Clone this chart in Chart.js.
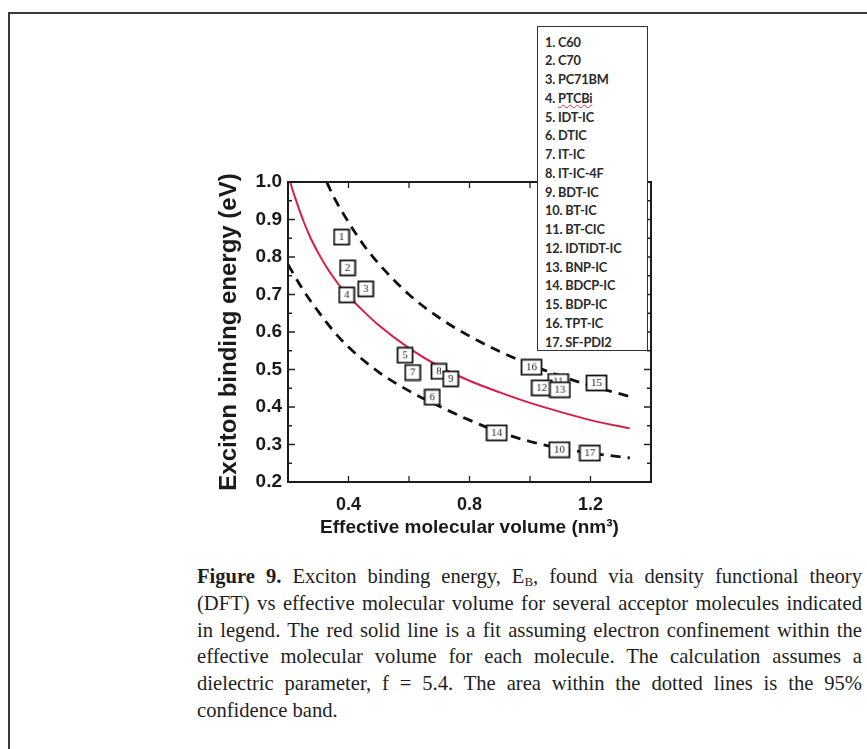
<!DOCTYPE html>
<html><head><meta charset="utf-8">
<script src="https://cdn.jsdelivr.net/npm/chart.js@4/dist/chart.umd.min.js"></script>
<style>
html,body{margin:0;padding:0;background:#fff;width:867px;height:749px;overflow:hidden;position:relative}
#frameTop{position:absolute;left:8px;top:12px;width:859px;height:2px;background:#3a3a3a}
#frameLeft{position:absolute;left:8px;top:12px;width:2px;height:737px;background:#3a3a3a}
#wrap{position:absolute;left:0;top:0;width:867px;height:560px}
#legend{position:absolute;left:537px;top:26px;width:109px;height:323px;border:1px solid #333;background:#fff;font-family:Lato,'Open Sans',sans-serif;font-weight:700;font-size:12.8px;color:#2a2a2a}
.li{position:absolute;left:7px;line-height:14px;white-space:nowrap;letter-spacing:-0.2px}
.sq{text-decoration:underline wavy #d0304a;text-decoration-thickness:1px}
#caption{position:absolute;left:197px;top:563px;width:665px;font-family:'Liberation Serif','Times New Roman',serif;font-size:20.6px;line-height:26.8px;color:#1e1e1e}
.cl{text-align:justify;text-align-last:justify;height:26.8px}
.cl.last{text-align-last:left}
sub{font-size:13px;line-height:0;vertical-align:-3px}
</style></head>
<body>
<div id="frameTop"></div><div id="frameLeft"></div>
<div id="wrap"><canvas id="c" width="867" height="560"></canvas></div>
<div id="legend"></div>
<div id="caption">
<div class="cl"><b>Figure 9.</b> Exciton binding energy, E<sub>B</sub>, found via density functional theory</div>
<div class="cl">(DFT) vs effective molecular volume for several acceptor molecules indicated</div>
<div class="cl">in legend. The red solid line is a fit assuming electron confinement within the</div>
<div class="cl">effective molecular volume for each molecule. The calculation assumes a</div>
<div class="cl">dielectric parameter, f = 5.4. The area within the dotted lines is the 95%</div>
<div class="cl last">confidence band.</div>
</div>
<script>
// ---- data ----
const molecules = ['C60','C70','PC71BM','PTCBi','IDT-IC','DTIC','IT-IC','IT-IC-4F','BDT-IC','BT-IC','BT-CIC','IDTIDT-IC','BNP-IC','BDCP-IC','BDP-IC','TPT-IC','SF-PDI2'];
const volume = [0.377,0.397,0.457,0.394,0.587,0.677,0.612,0.699,0.738,1.097,1.093,1.039,1.099,0.890,1.220,1.005,1.198];
const bindingEnergy = [0.853,0.771,0.715,0.699,0.538,0.426,0.492,0.495,0.475,0.286,0.468,0.451,0.446,0.331,0.464,0.506,0.277];
const fitX = [0.207,0.225,0.25,0.275,0.30,0.325,0.35,0.375,0.40,0.45,0.50,0.60,0.70,0.80,0.90,1.00,1.10,1.20,1.33];
const fitY = [1.00,0.955,0.898,0.850,0.811,0.776,0.746,0.719,0.696,0.655,0.618,0.557,0.508,0.470,0.439,0.411,0.387,0.365,0.343];
const upperX = [0.328,0.35,0.40,0.45,0.50,0.60,0.70,0.80,0.90,1.00,1.10,1.20,1.33];
const upperY = [1.00,0.962,0.893,0.832,0.782,0.700,0.638,0.589,0.548,0.513,0.483,0.457,0.428];
const lowerX = [0.20,0.25,0.30,0.35,0.40,0.50,0.60,0.70,0.80,0.90,1.00,1.10,1.20,1.33];
const lowerY = [0.78,0.712,0.655,0.603,0.560,0.493,0.443,0.402,0.365,0.333,0.308,0.290,0.277,0.264];
const xTickValues = [0.4,0.6,0.8,1.0,1.2];
const xTickLabels = ['0.4','','0.8','','1.2'];
const yTickValues = [0.2,0.3,0.4,0.5,0.6,0.7,0.8,0.9,1.0];
const yTickLabels = ['0.2','0.3','0.4','0.5','0.6','0.7','0.8','0.9','1.0'];

// legend
const lg = document.getElementById('legend');
molecules.forEach((m,i)=>{
  const d=document.createElement('div'); d.className='li';
  d.style.top=(7.6+i*18.75)+'px';
  d.innerHTML=(i+1)+'. '+(m==='PTCBi'?'<span class="sq">'+m+'</span>':m);
  lg.appendChild(d);
});

function pts(xs,ys){return xs.map((x,i)=>({x:x,y:ys[i]}));}
function box(t){
  const w=t.length>1?20:15,h=15;
  const c=document.createElement('canvas'); c.width=w+3; c.height=h+3;
  const g=c.getContext('2d');
  g.fillStyle='#fff'; g.fillRect(1.5,1.5,w,h);
  g.strokeStyle='#151515'; g.lineWidth=1.8; g.strokeRect(1.5,1.5,w,h);
  g.fillStyle='#222'; g.font='11px "Liberation Serif"'; g.textAlign='center'; g.textBaseline='middle';
  g.fillText(t,(w+3)/2,(h+3)/2+0.5);
  return c;
}
const boxes = molecules.map((m,i)=>box(String(i+1)));

const frameTicks={id:'frameTicks',afterDatasetsDraw(chart){
  const {ctx,chartArea:a,scales:{x,y}}=chart;
  ctx.save(); ctx.strokeStyle='#222'; ctx.lineWidth=1.3;
  ctx.beginPath();
  for(let i=0;i<yTickValues.length;i++){
    const py=y.getPixelForValue(yTickValues[i]);
    ctx.moveTo(a.left,py);ctx.lineTo(a.left+7,py);
    ctx.moveTo(a.right,py);ctx.lineTo(a.right-7,py);
    if(i<yTickValues.length-1){
      const pm=y.getPixelForValue((yTickValues[i]+yTickValues[i+1])/2);
      ctx.moveTo(a.left,pm);ctx.lineTo(a.left+4,pm);
      ctx.moveTo(a.right,pm);ctx.lineTo(a.right-4,pm);
    }
  }
  xTickValues.forEach(v=>{const px=x.getPixelForValue(v);
    ctx.moveTo(px,a.bottom);ctx.lineTo(px,a.bottom-6);
    ctx.moveTo(px,a.top);ctx.lineTo(px,a.top+6);});
  ctx.stroke();
  ctx.lineWidth=2; ctx.strokeStyle='#1c1c1c';
  ctx.strokeRect(a.left,a.top,a.right-a.left,a.bottom-a.top);
  ctx.restore();
}};

new Chart(document.getElementById('c'),{
  type:'scatter',
  data:{datasets:[
    {label:'molecules',data:pts(volume,bindingEnergy),pointStyle:boxes,pointRadius:7,showLine:false},
    {label:'fit',data:pts(fitX,fitY),showLine:true,borderColor:'#d81e45',borderWidth:2,pointRadius:0,cubicInterpolationMode:'monotone',fill:false},
    {label:'upper',data:pts(upperX,upperY),showLine:true,borderColor:'#111',borderWidth:2.8,borderDash:[10,7],pointRadius:0,cubicInterpolationMode:'monotone'},
    {label:'lower',data:pts(lowerX,lowerY),showLine:true,borderColor:'#111',borderWidth:2.8,borderDash:[10,7],pointRadius:0,cubicInterpolationMode:'monotone'}
  ]},
  options:{
    responsive:false,animation:false,
    layout:{padding:{left:208,top:182,right:216,bottom:0}},
    plugins:{legend:{display:false},tooltip:{enabled:false}},
    scales:{
      x:{type:'linear',min:0.2,max:1.4,
        afterBuildTicks:s=>{s.ticks=xTickValues.map(v=>({value:v}));},
        afterFit:s=>{s.height=78;},
        grid:{display:false,drawTicks:false},border:{display:false},
        ticks:{padding:12,color:'#1a1a1a',font:{family:'Liberation Sans',weight:'bold',size:18},
          callback:(v,i)=>xTickLabels[i]},
        title:{display:true,text:'Effective molecular volume (nm³)',color:'#1a1a1a',
          font:{family:'Liberation Sans',weight:'bold',size:19},padding:{top:0,bottom:21}}},
      y:{type:'linear',min:0.2,max:1.0,
        afterBuildTicks:s=>{s.ticks=yTickValues.map(v=>({value:v}));},
        afterFit:s=>{s.width=80;},
        grid:{display:false,drawTicks:false},border:{display:false},
        ticks:{padding:6,color:'#1a1a1a',font:{family:'Liberation Sans',weight:'bold',size:19},
          callback:(v,i)=>yTickLabels[i]},
        title:{display:true,text:'Exciton binding energy (eV)',color:'#1a1a1a',
          font:{family:'Liberation Sans',weight:'bold',size:24},padding:{top:7,bottom:0}}}
    }
  },
  plugins:[frameTicks]
});
</script>
</body></html>
